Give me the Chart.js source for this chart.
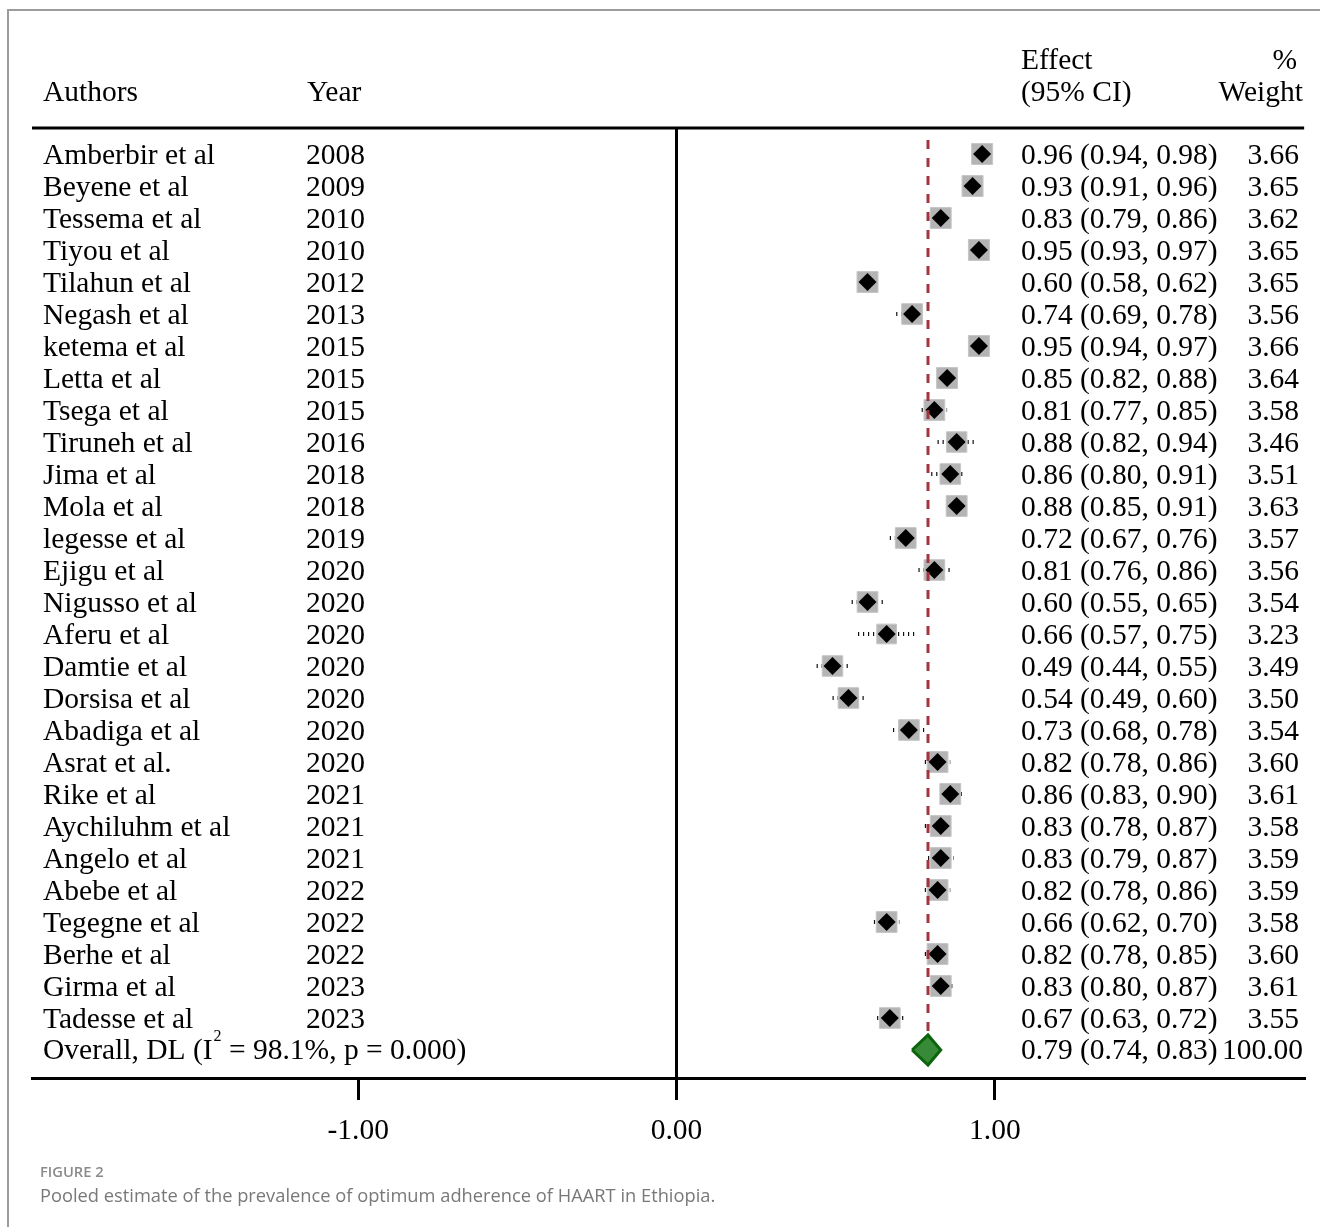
<!DOCTYPE html>
<html>
<head>
<meta charset="utf-8">
<title>Forest plot</title>
<script src="https://cdn.jsdelivr.net/npm/chart.js@4"></script>
<style>
  body { margin: 0; background: #fff; }
  #wrap { position: relative; width: 1320px; height: 1227px; overflow: hidden; }
  #frame { position: absolute; left: 7px; top: 9px; width: 1400px; height: 1400px;
           border-left: 2px solid #9c9c9c; border-top: 2px solid #9c9c9c; }
  #chart { position: absolute; left: 0; top: 0; }
  .fig { position: absolute; left: 40px; font-family: "Open Sans", sans-serif; line-height: 1; white-space: nowrap; }
  #figLabel { top: 1164px; font-size: 14.7px; font-weight: 600; color: #8a8a8a; }
  #figCaption { top: 1186px; font-size: 18.3px; color: #787878; }
</style>
</head>
<body>
<div id="wrap">
  <div id="frame"></div>
  <canvas id="chart" width="1320" height="1227"></canvas>
  <div class="fig" id="figLabel">FIGURE 2</div>
  <div class="fig" id="figCaption">Pooled estimate of the prevalence of optimum adherence of HAART in Ethiopia.</div>
</div>
<script>
const authors = ["Amberbir et al", "Beyene et al", "Tessema et al", "Tiyou et al", "Tilahun et al",
  "Negash et al", "ketema et al", "Letta et al", "Tsega et al", "Tiruneh et al", "Jima et al",
  "Mola et al", "legesse et al", "Ejigu et al", "Nigusso et al", "Aferu et al", "Damtie et al",
  "Dorsisa et al", "Abadiga et al", "Asrat et al.", "Rike et al", "Aychiluhm et al", "Angelo et al",
  "Abebe et al", "Tegegne et al", "Berhe et al", "Girma et al", "Tadesse et al"];
const years = [2008, 2009, 2010, 2010, 2012, 2013, 2015, 2015, 2015, 2016, 2018, 2018, 2019, 2020,
  2020, 2020, 2020, 2020, 2020, 2020, 2021, 2021, 2021, 2022, 2022, 2022, 2023, 2023];
const effects = [0.96, 0.93, 0.83, 0.95, 0.60, 0.74, 0.95, 0.85, 0.81, 0.88, 0.86, 0.88, 0.72, 0.81,
  0.60, 0.66, 0.49, 0.54, 0.73, 0.82, 0.86, 0.83, 0.83, 0.82, 0.66, 0.82, 0.83, 0.67];
const lower = [0.94, 0.91, 0.79, 0.93, 0.58, 0.69, 0.94, 0.82, 0.77, 0.82, 0.80, 0.85, 0.67, 0.76,
  0.55, 0.57, 0.44, 0.49, 0.68, 0.78, 0.83, 0.78, 0.79, 0.78, 0.62, 0.78, 0.80, 0.63];
const upper = [0.98, 0.96, 0.86, 0.97, 0.62, 0.78, 0.97, 0.88, 0.85, 0.94, 0.91, 0.91, 0.76, 0.86,
  0.65, 0.75, 0.55, 0.60, 0.78, 0.86, 0.90, 0.87, 0.87, 0.86, 0.70, 0.85, 0.87, 0.72];
const weights = [3.66, 3.65, 3.62, 3.65, 3.65, 3.56, 3.66, 3.64, 3.58, 3.46, 3.51, 3.63, 3.57, 3.56,
  3.54, 3.23, 3.49, 3.50, 3.54, 3.60, 3.61, 3.58, 3.59, 3.59, 3.58, 3.60, 3.61, 3.55];
const overallEffect = 0.79;
const overallLower = 0.74;
const overallUpper = 0.83;
const overallWeight = 100.00;
const i2 = "98.1%";
const pValue = "0.000";
const xTicks = [-1, 0, 1];

const n = authors.length;
const rows = authors.map((a, i) => i);

// CI segments in one dataset, broken by gaps
const ciPoints = [];
rows.forEach(i => {
  ciPoints.push({ x: lower[i], y: i }, { x: upper[i], y: i }, { x: null, y: null });
});

const maxW = Math.max(...weights);
const boxRadius = weights.map(w => 21 * Math.sqrt(w / maxW) * Math.SQRT1_2);

const dh = 0.47; // half height of pooled diamond in row units
const pooled = [
  { x: overallLower, y: n }, { x: overallEffect, y: n - dh },
  { x: overallUpper, y: n }, { x: overallEffect, y: n + dh }, { x: overallLower, y: n }
];

const FONT = '29.5px "Liberation Serif"';

const textPlugin = {
  id: 'forestText',
  afterDraw(chart) {
    const { ctx, chartArea, scales: { y } } = chart;
    ctx.save();
    ctx.strokeStyle = '#000';
    ctx.lineWidth = 3;
    ctx.beginPath();
    ctx.moveTo(chartArea.left, chartArea.top);
    ctx.lineTo(chartArea.right, chartArea.top);
    ctx.stroke();

    ctx.fillStyle = '#000';
    ctx.font = FONT;
    ctx.textBaseline = 'middle';
    ctx.textAlign = 'left';
    ctx.fillText('Authors', 43, 93);
    ctx.fillText('Year', 307, 93);
    ctx.fillText('Effect', 1021, 61);
    ctx.fillText('(95% CI)', 1021, 93);
    ctx.textAlign = 'right';
    ctx.fillText('%', 1297, 61);
    ctx.fillText('Weight', 1303, 93);

    rows.forEach(i => {
      const py = y.getPixelForValue(i) + 2;
      ctx.textAlign = 'left';
      ctx.fillText(authors[i], 43, py);
      ctx.fillText(String(years[i]), 306, py);
      ctx.fillText(effects[i].toFixed(2) + ' (' + lower[i].toFixed(2) + ', ' + upper[i].toFixed(2) + ')', 1021, py);
      ctx.textAlign = 'right';
      ctx.fillText(weights[i].toFixed(2), 1299, py);
    });

    const oy = y.getPixelForValue(n) + 1;
    ctx.textAlign = 'left';
    const first = 'Overall, DL (I';
    ctx.fillText(first, 43, oy);
    let px = 43 + ctx.measureText(first).width + 1;
    ctx.font = '16px "Liberation Serif"';
    ctx.fillText('2', px, oy - 14);
    px += ctx.measureText('2').width;
    ctx.font = FONT;
    ctx.fillText(' = ' + i2 + ', p = ' + pValue + ')', px, oy);
    ctx.fillText(overallEffect.toFixed(2) + ' (' + overallLower.toFixed(2) + ', ' + overallUpper.toFixed(2) + ')', 1021, oy);
    ctx.textAlign = 'right';
    ctx.fillText(overallWeight.toFixed(2), 1303, oy);
    ctx.restore();
  }
};

new Chart(document.getElementById('chart'), {
  type: 'line',
  data: {
    datasets: [
      {
        label: 'pooled',
        data: pooled,
        borderColor: '#0b650b',
        backgroundColor: '#378a37',
        borderWidth: 3,
        fill: 'shape',
        pointRadius: 0,
        tension: 0,
        order: 1
      },
      {
        label: 'reference',
        data: [{ x: overallEffect, y: -0.44 }, { x: overallEffect, y: n + 0.4 }],
        borderColor: '#a3343f',
        borderWidth: 3,
        borderDash: [9, 9],
        pointRadius: 0,
        fill: false,
        order: 2
      },
      {
        label: 'estimate',
        data: rows.map(i => ({ x: effects[i], y: i })),
        showLine: false,
        pointStyle: 'rectRot',
        pointRadius: 9,
        pointBackgroundColor: '#000',
        pointBorderWidth: 0,
        order: 3
      },
      {
        label: 'weight',
        data: rows.map(i => ({ x: effects[i], y: i })),
        showLine: false,
        pointStyle: 'rect',
        pointRadius: boxRadius,
        pointBackgroundColor: '#b4b4b4',
        pointBorderColor: '#c6c6c6',
        pointBorderWidth: 1,
        order: 4
      },
      {
        label: 'ci',
        data: ciPoints,
        borderColor: '#111',
        borderWidth: 4,
        borderDash: [1.2, 3.8],
        pointRadius: 0,
        spanGaps: false,
        fill: false,
        order: 5
      }
    ]
  },
  options: {
    responsive: false,
    animation: false,
    events: [],
    layout: { padding: { left: 32, right: 13, top: 128, bottom: 0 } },
    plugins: { legend: { display: false }, tooltip: { enabled: false } },
    scales: {
      x: {
        type: 'linear',
        min: (32 - 678) / 319,
        max: (1307 - 678) / 319,
        afterBuildTicks: axis => { axis.ticks = xTicks.map(v => ({ value: v })); },
        afterFit: axis => { axis.height = 149; },
        grid: {
          color: c => (c.tick && c.tick.value === 0) ? '#000' : 'rgba(0,0,0,0)',
          lineWidth: 3,
          tickColor: '#000',
          tickWidth: 3,
          tickLength: 22
        },
        border: { color: '#000', width: 3 },
        ticks: {
          color: '#000',
          padding: 14,
          font: { family: 'Liberation Serif', size: 29.5 },
          callback: v => v.toFixed(2)
        }
      },
      y: {
        type: 'linear',
        reverse: true,
        min: (128 - 154) / 32,
        max: (1078 - 154) / 32,
        display: false
      }
    }
  },
  plugins: [textPlugin]
});
</script>
</body>
</html>
